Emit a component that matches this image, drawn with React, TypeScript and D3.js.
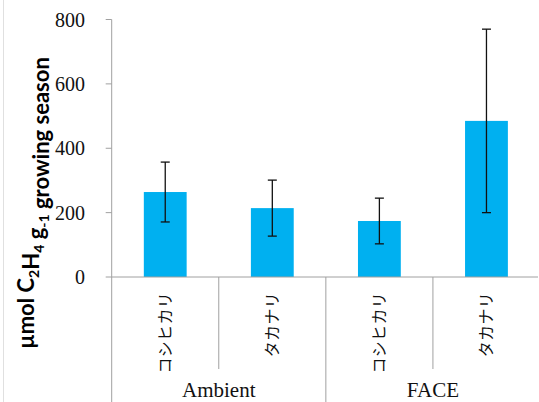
import React, { useEffect, useRef } from 'react';
import * as d3 from 'd3';

const groups = ['Ambient', 'FACE'];
const varieties = ['コシヒカリ', 'タカナリ', 'コシヒカリ', 'タカナリ'];
const means = [264, 214, 174, 485];
const errors = [93, 87, 71, 285];
const yTicks = [0, 200, 400, 600, 800];

const App = () => {
  const ref = useRef<SVGSVGElement>(null);

  useEffect(() => {
    const svg = d3.select(ref.current);
    svg.selectAll('*').remove();

    const height = 402;
    const left = 111.7;
    const right = 540;
    const axisGray = '#a0a0a0';

    const keys = varieties.map((v, i) => `${groups[Math.floor(i / 2)]}-${v}-${i}`);
    const x = d3.scaleBand().domain(keys).range([left, right]).padding(0);
    const y = d3.scaleLinear().domain([0, 800]).range([277, 19.5]);
    const bw = x.bandwidth() * 0.4;

    // faint frame edge
    svg.append('line')
      .attr('x1', 3.5).attr('x2', 3.5).attr('y1', 0).attr('y2', height)
      .attr('stroke', '#e0e0e0').attr('stroke-width', 1);

    // y axis
    svg.append('line')
      .attr('x1', left).attr('x2', left).attr('y1', y(800)).attr('y2', height)
      .attr('stroke', axisGray).attr('stroke-width', 1);

    svg.selectAll('.ytick')
      .data(yTicks)
      .enter()
      .append('line')
      .attr('x1', left - 6).attr('x2', left)
      .attr('y1', d => y(d)).attr('y2', d => y(d))
      .attr('stroke', axisGray).attr('stroke-width', 1);

    svg.selectAll('.ylabel')
      .data(yTicks)
      .enter()
      .append('text')
      .attr('x', 85)
      .attr('y', d => y(d))
      .attr('dy', '0.35em')
      .attr('text-anchor', 'end')
      .style('font-family', '"Liberation Serif", serif')
      .style('font-size', '20px')
      .attr('fill', '#111')
      .text(d => d);

    // bars
    svg.selectAll('.bar')
      .data(means)
      .enter()
      .append('rect')
      .attr('x', (d, i) => x(keys[i])! + x.bandwidth() / 2 - bw / 2)
      .attr('width', bw)
      .attr('y', d => y(d))
      .attr('height', d => y(0) - y(d))
      .attr('fill', '#00b0f0');

    // error bars
    const eb = svg.selectAll('.err')
      .data(means)
      .enter()
      .append('g')
      .attr('transform', (d, i) => `translate(${x(keys[i])! + x.bandwidth() / 2},0)`);
    eb.append('line')
      .attr('y1', (d, i) => y(d + errors[i]))
      .attr('y2', (d, i) => y(d - errors[i]))
      .attr('stroke', '#111').attr('stroke-width', 1.3);
    eb.append('line')
      .attr('x1', -4.5).attr('x2', 4.5)
      .attr('y1', (d, i) => y(d + errors[i]))
      .attr('y2', (d, i) => y(d + errors[i]))
      .attr('stroke', '#111').attr('stroke-width', 1.3);
    eb.append('line')
      .attr('x1', -4.5).attr('x2', 4.5)
      .attr('y1', (d, i) => y(d - errors[i]))
      .attr('y2', (d, i) => y(d - errors[i]))
      .attr('stroke', '#111').attr('stroke-width', 1.3);

    // x axis
    svg.append('line')
      .attr('x1', left).attr('x2', 538).attr('y1', y(0)).attr('y2', y(0))
      .attr('stroke', axisGray).attr('stroke-width', 1);

    svg.selectAll('.xtick')
      .data(keys.slice(1))
      .enter()
      .append('line')
      .attr('x1', d => x(d)!).attr('x2', d => x(d)!)
      .attr('y1', y(0))
      .attr('y2', (d, i) => (i % 2 === 1 ? height : 369))
      .attr('stroke', axisGray).attr('stroke-width', 1);

    svg.selectAll('.xlabel')
      .data(keys)
      .enter()
      .append('text')
      .attr('transform', d => `translate(${x(d)! + x.bandwidth() / 2},292) rotate(-90)`)
      .attr('text-anchor', 'end')
      .attr('dy', '0.35em')
      .style('font-family', '"Noto Sans CJK JP", sans-serif')
      .style('font-size', '16px')
      .style('letter-spacing', '0.3px')
      .attr('fill', '#111')
      .text((d, i) => varieties[i]);

    svg.selectAll('.glabel')
      .data(groups)
      .enter()
      .append('text')
      .attr('x', (d, i) => (x(keys[i * 2])! + x(keys[i * 2 + 1])! + x.bandwidth()) / 2)
      .attr('y', 397)
      .attr('text-anchor', 'middle')
      .style('font-family', '"Liberation Serif", serif')
      .style('font-size', '21px')
      .attr('fill', '#111')
      .text(d => d);

    // y title
    const title = svg.append('text')
      .attr('transform', 'translate(34,203) rotate(-90)')
      .attr('text-anchor', 'middle')
      .style('font-family', 'Lato, sans-serif')
      .style('font-weight', 'bold')
      .style('font-size', '22px')
      .attr('fill', '#000');
    const parts: [string, boolean][] = [
      ['µmol C', false], ['2', true], ['H', false], ['4', true],
      [' g', false], ['-1', true], [' growing season', false],
    ];
    parts.forEach(([t, sub]) => {
      title.append('tspan')
        .attr('dy', sub ? 5 : 0)
        .style('font-size', sub ? '14px' : '22px')
        .text(t);
      if (sub) title.append('tspan').attr('dy', -5).text('');
    });
  }, []);

  return (
    <svg
      ref={ref}
      width={539}
      height={402}
      style={{ position: 'absolute', left: 0, top: 0, background: '#fff' }}
    />
  );
};

export default App;
